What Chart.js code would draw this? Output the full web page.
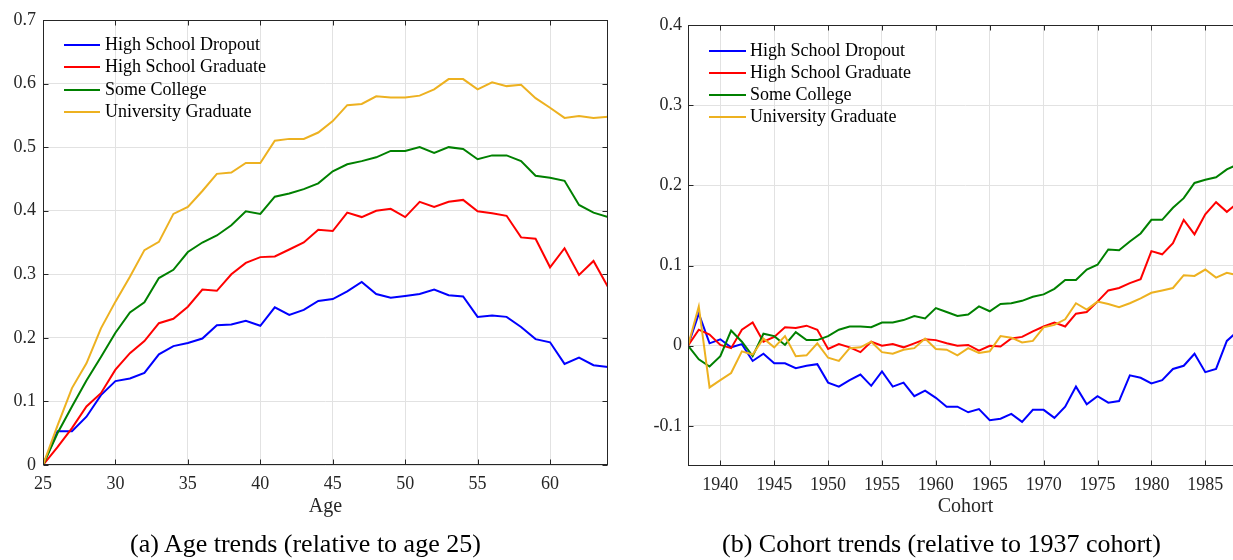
<!DOCTYPE html>
<html><head><meta charset="utf-8">
<script src="https://cdn.jsdelivr.net/npm/chart.js@4.4.1/dist/chart.umd.min.js"></script>
<style>
html,body{margin:0;padding:0;background:#fff;overflow:hidden;width:1233px;height:560px;position:relative;}
#a{position:absolute;left:0;top:0;}
#b{position:absolute;left:640px;top:0;}
.cap{position:absolute;font-family:"Liberation Serif";font-size:26px;line-height:30px;color:#000;white-space:nowrap;}
</style></head><body>
<canvas id="a" width="625" height="560"></canvas>
<canvas id="b" width="612" height="560"></canvas>
<div class="cap" style="left:130px;top:529px">(a) Age trends (relative to age 25)</div>
<div class="cap" style="left:722px;top:529px">(b) Cohort trends (relative to 1937 cohort)</div>
<script>
// ---------- DATA ----------
const seriesNames = ['High School Dropout','High School Graduate','Some College','University Graduate'];
const seriesColors = ['#0000ff','#ff0000','#008000','#edb120'];

const ages = [25,26,27,28,29,30,31,32,33,34,35,36,37,38,39,40,41,42,43,44,45,46,47,48,49,50,51,52,53,54,55,56,57,58,59,60,61,62,63,64];
const ageDropout = [0,0.053,0.053,0.076,0.110,0.132,0.136,0.145,0.174,0.187,0.192,0.199,0.220,0.221,0.227,0.219,0.248,0.236,0.244,0.258,0.261,0.273,0.288,0.269,0.263,0.266,0.269,0.276,0.267,0.265,0.233,0.235,0.233,0.217,0.198,0.193,0.159,0.169,0.157,0.154];
const ageHSGrad = [0,0.028,0.058,0.092,0.113,0.150,0.176,0.195,0.223,0.230,0.249,0.276,0.274,0.300,0.318,0.327,0.328,0.339,0.350,0.370,0.368,0.397,0.390,0.400,0.403,0.390,0.414,0.406,0.414,0.417,0.399,0.396,0.392,0.358,0.356,0.311,0.341,0.299,0.321,0.280];
const ageSomeCollege = [0,0.050,0.092,0.133,0.170,0.208,0.240,0.256,0.294,0.307,0.335,0.350,0.361,0.377,0.399,0.395,0.422,0.427,0.434,0.443,0.462,0.473,0.478,0.484,0.494,0.494,0.500,0.491,0.500,0.497,0.481,0.487,0.487,0.478,0.455,0.452,0.447,0.409,0.397,0.390];
const ageUnivGrad = [0,0.062,0.121,0.160,0.215,0.257,0.296,0.338,0.351,0.395,0.406,0.431,0.458,0.460,0.475,0.475,0.510,0.513,0.513,0.523,0.541,0.566,0.568,0.580,0.578,0.578,0.581,0.591,0.607,0.607,0.591,0.602,0.596,0.598,0.577,0.562,0.546,0.549,0.546,0.548];

const cohorts = [1937,1938,1939,1940,1941,1942,1943,1944,1945,1946,1947,1948,1949,1950,1951,1952,1953,1954,1955,1956,1957,1958,1959,1960,1961,1962,1963,1964,1965,1966,1967,1968,1969,1970,1971,1972,1973,1974,1975,1976,1977,1978,1979,1980,1981,1982,1983,1984,1985,1986,1987,1988];
const cohDropout = [0,0.040,0.003,0.008,-0.002,0.002,-0.019,-0.010,-0.022,-0.022,-0.028,-0.025,-0.023,-0.046,-0.051,-0.043,-0.036,-0.050,-0.032,-0.051,-0.046,-0.063,-0.056,-0.065,-0.076,-0.076,-0.083,-0.079,-0.093,-0.091,-0.085,-0.095,-0.080,-0.080,-0.090,-0.076,-0.051,-0.073,-0.063,-0.071,-0.069,-0.037,-0.040,-0.047,-0.043,-0.029,-0.025,-0.010,-0.033,-0.029,0.006,0.018];
const cohHSGrad = [0,0.020,0.014,0.001,-0.003,0.020,0.029,0.005,0.011,0.023,0.022,0.025,0.020,-0.004,0.002,-0.002,-0.008,0.005,0.000,0.002,-0.002,0.003,0.008,0.007,0.003,0.000,0.001,-0.006,0.000,-0.001,0.009,0.011,0.018,0.024,0.029,0.024,0.040,0.042,0.055,0.069,0.072,0.078,0.083,0.118,0.114,0.128,0.157,0.139,0.164,0.179,0.167,0.178];
const cohSomeCollege = [0,-0.017,-0.026,-0.013,0.019,0.005,-0.013,0.015,0.012,0.001,0.017,0.007,0.007,0.012,0.020,0.024,0.024,0.023,0.029,0.029,0.032,0.037,0.034,0.047,0.042,0.037,0.039,0.049,0.043,0.052,0.053,0.056,0.061,0.064,0.071,0.082,0.082,0.095,0.101,0.120,0.119,0.130,0.140,0.157,0.157,0.172,0.184,0.203,0.207,0.210,0.220,0.226];
const cohUnivGrad = [0,0.049,-0.052,-0.043,-0.034,-0.007,-0.011,0.009,-0.002,0.012,-0.013,-0.012,0.003,-0.015,-0.019,-0.003,-0.002,0.005,-0.008,-0.010,-0.005,-0.003,0.009,-0.004,-0.005,-0.012,-0.003,-0.009,-0.007,0.012,0.010,0.004,0.006,0.023,0.026,0.033,0.053,0.045,0.055,0.052,0.048,0.053,0.059,0.066,0.069,0.072,0.088,0.087,0.095,0.085,0.091,0.088];

const ageXTicks = [25,30,35,40,45,50,55,60];
const ageYTicks = [0,0.1,0.2,0.3,0.4,0.5,0.6,0.7];
const cohXTicks = [1940,1945,1950,1955,1960,1965,1970,1975,1980,1985];
const cohYTicks = [-0.1,0,0.1,0.2,0.3,0.4];

// ---------- helpers ----------
const FONT = '"Liberation Serif", "Times New Roman", serif';
const AX = '#262626';

function makeSets(xs, arrs){
  return arrs.map((vals,i)=>({
    label: seriesNames[i],
    data: xs.map((x,j)=>({x:x, y:vals[j]})),
    borderColor: seriesColors[i],
    backgroundColor: seriesColors[i],
    borderWidth: 2,
    pointRadius: 0,
    tension: 0,
    fill: false,
    order: 3 - i
  }));
}

const framePlugin = {
  id: 'frame',
  afterDraw(chart, args, opts){
    const {ctx, chartArea: ca, scales} = chart;
    const xs = scales.x, ys = scales.y;
    ctx.save();
    ctx.strokeStyle = AX; ctx.lineWidth = 1;
    const L = Math.round(ca.left)+0.5, R = Math.round(ca.right)-0.5;
    const T = Math.round(ca.top)+0.5, B = Math.round(ca.bottom)-0.5;
    ctx.strokeRect(L, T, R-L, B-T);
    const tl = 5;
    ctx.beginPath();
    xs.ticks.forEach(t=>{
      const p = Math.round(xs.getPixelForValue(t.value))+0.5;
      ctx.moveTo(p,B); ctx.lineTo(p,B-tl);
      ctx.moveTo(p,T); ctx.lineTo(p,T+tl);
    });
    ys.ticks.forEach(t=>{
      const p = Math.round(ys.getPixelForValue(t.value))+0.5;
      ctx.moveTo(L,p); ctx.lineTo(L+tl,p);
      ctx.moveTo(R,p); ctx.lineTo(R-tl,p);
    });
    ctx.stroke();
    // legend
    ctx.font = '18px ' + FONT;
    ctx.textBaseline = 'alphabetic';
    ctx.fillStyle = '#000';
    chart.data.datasets.forEach((d,i)=>{
      const y = Math.round(ca.top + opts.dy + i*opts.gap);
      ctx.strokeStyle = d.borderColor; ctx.lineWidth = 2;
      ctx.beginPath(); ctx.moveTo(ca.left+opts.x0, y); ctx.lineTo(ca.left+opts.x1, y); ctx.stroke();
      ctx.fillText(d.label, ca.left+opts.tx, y+5);
    });
    ctx.restore();
  }
};

function makeChart(id, xs, arrs, cfg){
  return new Chart(document.getElementById(id), {
    type: 'line',
    data: { datasets: makeSets(xs, arrs) },
    plugins: [framePlugin],
    options: {
      responsive: false,
      animation: false,
      layout: { padding: cfg.pad },
      plugins: { legend: {display:false}, tooltip: {enabled:false}, frame: cfg.legend },
      scales: {
        x: {
          type: 'linear', min: cfg.xmin, max: cfg.xmax,
          afterBuildTicks: ax => { ax.ticks = cfg.xticks.map(v=>({value:v})); },
          afterFit: ax => { ax.height = cfg.xh; },
          ticks: { color: AX, font: {family: FONT, size: 18}, padding: 8, maxRotation: 0, autoSkip: false,
                   callback: v => String(v) },
          grid: { color: '#e2e2e2', lineWidth: 1, drawTicks: false },
          border: { display: false },
          title: { display: true, text: cfg.xtitle, color: AX, font: {family: FONT, size: 20}, padding: 0 }
        },
        y: {
          type: 'linear', min: cfg.ymin, max: cfg.ymax,
          afterBuildTicks: ax => { ax.ticks = cfg.yticks.map(v=>({value:v})); },
          afterFit: ax => { ax.width = cfg.yw; },
          ticks: { color: AX, font: {family: FONT, size: 18}, padding: cfg.ypad, autoSkip: false,
                   callback: v => String(Math.round(v*10)/10) },
          grid: { color: '#e2e2e2', lineWidth: 1, drawTicks: false },
          border: { display: false }
        }
      }
    }
  });
}

makeChart('a', ages, [ageDropout, ageHSGrad, ageSomeCollege, ageUnivGrad], {
  pad: {top: 20, left: 0, right: 17, bottom: 41},
  xmin: 25, xmax: 64, ymin: 0, ymax: 0.7,
  xticks: ageXTicks, yticks: ageYTicks,
  xh: 54, yw: 43, ypad: 7, xtitle: 'Age',
  legend: {dy: 25, gap: 22.4, x0: 21, x1: 57, tx: 62}
});

makeChart('b', cohorts, [cohDropout, cohHSGrad, cohSomeCollege, cohUnivGrad], {
  pad: {top: 25, left: 0, right: 9, bottom: 41},
  xmin: 1937, xmax: 1988.5, ymin: -0.15, ymax: 0.4,
  xticks: cohXTicks, yticks: cohYTicks,
  xh: 53, yw: 48, ypad: 6, xtitle: 'Cohort',
  legend: {dy: 26, gap: 22, x0: 21, x1: 58, tx: 62}
});
</script>
</body></html>
